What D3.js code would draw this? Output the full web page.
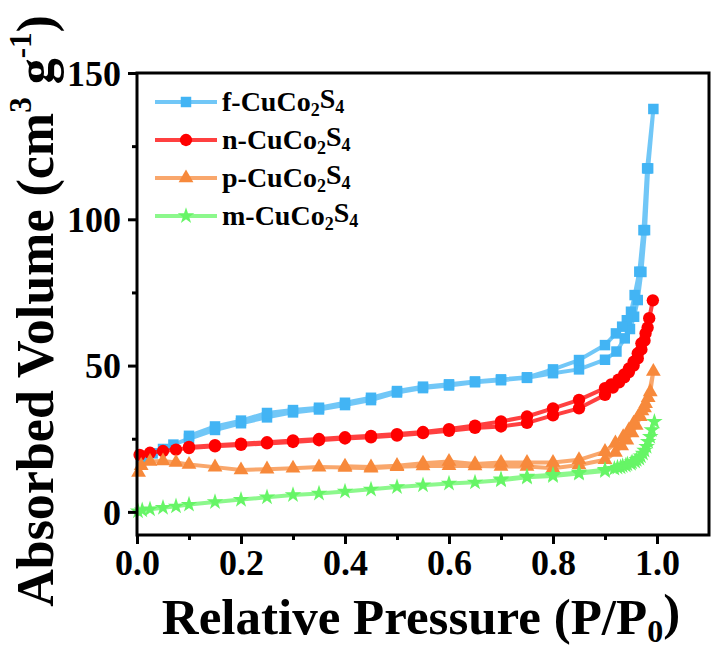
<!DOCTYPE html>
<html><head><meta charset="utf-8">
<script src="https://cdn.jsdelivr.net/npm/d3@7"></script>
<style>
html,body{margin:0;padding:0;background:#fff;}
text{font-family:"Liberation Serif","Times New Roman",serif;font-weight:bold;fill:#000;}
</style></head>
<body><svg id="chart" width="716" height="652"></svg>
<script>
// ---- data ----
const seriesNames = ["f-CuCo", "n-CuCo", "p-CuCo", "m-CuCo"];
const seriesColors = ["#42b4f4", "#ff0000", "#f7893b", "#66f566"];

const fAdsP = [0.01,0.03,0.05,0.07,0.1,0.15,0.2,0.25,0.3,0.35,0.4,0.45,0.5,0.55,0.6,0.65,0.7,0.75,0.8,0.85,0.9,0.922,0.938,0.948,0.956,0.963,0.97,0.977,0.983,0.993];
const fAdsV = [18,20,21.5,23,25,28,30.3,32.3,34,35,36.5,38.2,40.8,42.3,43.2,44.3,45,45.8,47.4,48.7,52,54.8,59.3,62.5,66.7,72.4,82,96.3,117.4,137.7];
const fDesP = [0.981,0.974,0.966,0.957,0.95,0.942,0.933,0.921,0.9,0.85,0.8,0.75,0.7,0.65,0.6,0.55,0.5,0.45,0.4,0.35,0.3,0.25,0.2,0.15,0.1];
const fDesV = [117.4,96.3,82.1,74.1,68.4,65.5,63.3,61,57,51.9,48.7,46,45.3,44.6,43.6,42.8,41.3,39,37.3,35.6,34.8,33.8,31.2,29.2,26];

const nAdsP = [0.005,0.025,0.05,0.075,0.1,0.15,0.2,0.25,0.3,0.35,0.4,0.45,0.5,0.55,0.6,0.65,0.7,0.75,0.8,0.85,0.9,0.915,0.927,0.937,0.946,0.955,0.963,0.97,0.976,0.982,0.992];
const nAdsV = [19.5,20.2,20.8,21.3,21.8,22.4,22.9,23.4,23.9,24.5,25.1,25.5,26.1,26.9,27.7,28.7,29.2,30.4,33,35.4,40,42.5,44.3,46,47.8,50,52.5,55.5,58.5,63,72.3];
const nDesP = [0.985,0.978,0.97,0.963,0.955,0.946,0.937,0.926,0.912,0.9,0.85,0.8,0.75,0.7,0.65,0.6,0.55,0.5,0.45,0.4,0.35,0.3,0.25,0.2,0.15,0.1];
const nDesV = [66.2,61,57.6,54.2,51.3,49,47,45.2,43.6,42.3,38.3,35.4,32.6,30.9,29.5,28.3,27.3,26.6,26,25.5,24.9,24.4,23.8,23.3,22.8,22.2];

const pAdsP = [0.003,0.008,0.025,0.05,0.075,0.1,0.15,0.2,0.25,0.3,0.35,0.4,0.45,0.5,0.55,0.6,0.65,0.7,0.75,0.8,0.85,0.9,0.92,0.932,0.942,0.952,0.96,0.968,0.976,0.983,0.993];
const pAdsV = [13.5,15.8,17.2,17.4,16.9,16.2,15.3,14.3,14.6,14.9,15.3,15.2,14.9,15.4,15.7,15.8,15.7,15.5,15.5,14.9,16,17.8,20.3,22.5,24.5,27,29.5,32.5,35.5,39,48];
const pDesP = [0.987,0.978,0.971,0.964,0.955,0.946,0.935,0.92,0.9,0.85,0.8,0.75,0.7,0.65,0.6,0.55,0.5,0.45,0.4];
const pDesV = [41,37,34.5,32.6,30.3,28,25.7,23.5,20.6,17.8,16.9,16.9,16.9,16.4,17.2,16.6,15.8,15.3,15.6];

const mAdsP = [0.002,0.01,0.025,0.05,0.075,0.1,0.15,0.2,0.25,0.3,0.35,0.4,0.45,0.5,0.55,0.6,0.65,0.7,0.75,0.8,0.85,0.9,0.918,0.93,0.94,0.95,0.958,0.966,0.973,0.98,0.987,0.995];
const mAdsV = [0.2,0.6,0.9,1.4,1.9,2.5,3.4,4.2,5.0,5.8,6.3,7.0,7.7,8.5,9.1,9.7,10.1,10.8,11.8,12.3,13.1,14.0,14.8,15.3,15.9,16.5,17.2,18.3,20,22.3,25.7,30.8];
const mDesP = [0.99,0.983,0.976,0.969,0.961,0.952,0.943,0.934,0.924,0.9,0.85,0.8,0.75,0.7];
const mDesV = [28,24,21,19,17.8,17,16.3,15.7,15.2,14.4,13.5,12.7,12.1,11.2];

const xMajorTicks = [0, 0.2, 0.4, 0.6, 0.8, 1.0];
const xMinorTicks = [0.1, 0.3, 0.5, 0.7, 0.9];
const yMajorTicks = [0, 50, 100, 150];
const yMinorTicks = [25, 75, 125];

// ---- layout ----
const svg = d3.select("#chart");
const L = 137, R = 709, T = 73, B = 535;
const x = d3.scaleLinear().domain([0, 1.1]).range([L, R]);
const y = d3.scaleLinear().domain([-7.9, 150]).range([B, T]);

function pts(ap, av, dp, dv) {
  const a = ap.map((p, i) => [p, av[i]]);
  const d = dp.map((p, i) => [p, dv[i]]);
  return a.concat(d);
}
const series = [
  pts(fAdsP, fAdsV, fDesP, fDesV),
  pts(nAdsP, nAdsV, nDesP, nDesV),
  pts(pAdsP, pAdsV, pDesP, pDesV),
  pts(mAdsP, mAdsV, mDesP, mDesV)
];
const symbols = [
  d3.symbol().type(d3.symbolSquare).size(110),
  d3.symbol().type(d3.symbolCircle).size(120),
  d3.symbol().type(d3.symbolTriangle).size(95),
  d3.symbol().type(d3.symbolStar).size(85)
];

const line = d3.line().x(d => x(d[0])).y(d => y(d[1]));
const plot = svg.append("g");
series.forEach((s, i) => {
  const g = plot.append("g");
  g.append("path").attr("d", line(s)).attr("fill", "none")
    .attr("stroke", seriesColors[i]).attr("stroke-width", 4).attr("stroke-opacity", 0.75)
    .attr("stroke-linejoin", "round");
  g.selectAll("path.m").data(s).enter().append("path").attr("class", "m")
    .attr("d", symbols[i]())
    .attr("transform", d => `translate(${x(d[0])},${y(d[1])})`)
    .attr("fill", seriesColors[i]);
});

// ---- axes ----
const fmt = d3.format(".1f");
const xAxis = svg.append("g").attr("transform", `translate(0,${B})`)
  .call(d3.axisBottom(x).tickValues(xMajorTicks).tickSize(9).tickPadding(6).tickFormat(fmt));
svg.append("g").attr("transform", `translate(0,${B})`)
  .call(d3.axisBottom(x).tickValues(xMinorTicks).tickSize(5).tickFormat(""));
const yAxis = svg.append("g").attr("transform", `translate(${L},0)`)
  .call(d3.axisLeft(y).tickValues(yMajorTicks).tickSize(9).tickPadding(7));
svg.append("g").attr("transform", `translate(${L},0)`)
  .call(d3.axisLeft(y).tickValues(yMinorTicks).tickSize(5).tickFormat(""));
svg.selectAll(".domain").remove();
svg.selectAll(".tick line").attr("stroke", "#000").attr("stroke-width", 3);
svg.selectAll(".tick text").style("font-family", '"Liberation Serif","Times New Roman",serif')
  .style("font-weight", "bold").style("font-size", "36px").attr("fill", "#000");
yAxis.selectAll(".tick text").attr("dy", "0.34em");
xAxis.selectAll(".tick text").attr("dy", "0.7em");

svg.append("rect").attr("x", L).attr("y", T).attr("width", R - L).attr("height", B - T)
  .attr("fill", "none").attr("stroke", "#000").attr("stroke-width", 3);

// ---- titles ----
const xt = svg.append("text").attr("x", 421).attr("y", 634).attr("text-anchor", "middle")
  .style("font-size", "51px");
xt.append("tspan").text("Relative Pressure (P/P");
xt.append("tspan").attr("dy", "0.25em").style("font-size", "32px").text("0");
xt.append("tspan").attr("dy", "-0.25em").text(")");

const yt = svg.append("text").attr("transform", "translate(53,311) rotate(-90)")
  .attr("text-anchor", "middle").style("font-size", "52px");
yt.append("tspan").text("Absorbed Volume (cm");
yt.append("tspan").attr("dy", "-0.7em").style("font-size", "31px").text("3");
yt.append("tspan").attr("dy", "0.42em").text(" g");
yt.append("tspan").attr("dy", "-0.7em").style("font-size", "31px").text("-1");
yt.append("tspan").attr("dy", "0.42em").text(")");

// ---- legend ----
const lg = svg.append("g");
seriesNames.forEach((name, i) => {
  const yy = 102 + i * 38;
  lg.append("line").attr("x1", 155).attr("x2", 217).attr("y1", yy).attr("y2", yy)
    .attr("stroke", seriesColors[i]).attr("stroke-width", 4).attr("stroke-opacity", 0.75);
  lg.append("path").attr("d", symbols[i]()).attr("transform", `translate(186,${yy})`)
    .attr("fill", seriesColors[i]);
  const t = lg.append("text").attr("x", 222).attr("y", yy + 9).style("font-size", "28px");
  t.append("tspan").text(name);
  t.append("tspan").attr("dy", "0.3em").style("font-size", "18px").text("2");
  t.append("tspan").attr("dy", "-0.3em").text("S");
  t.append("tspan").attr("dy", "0.3em").style("font-size", "18px").text("4");
});
</script></body></html>
